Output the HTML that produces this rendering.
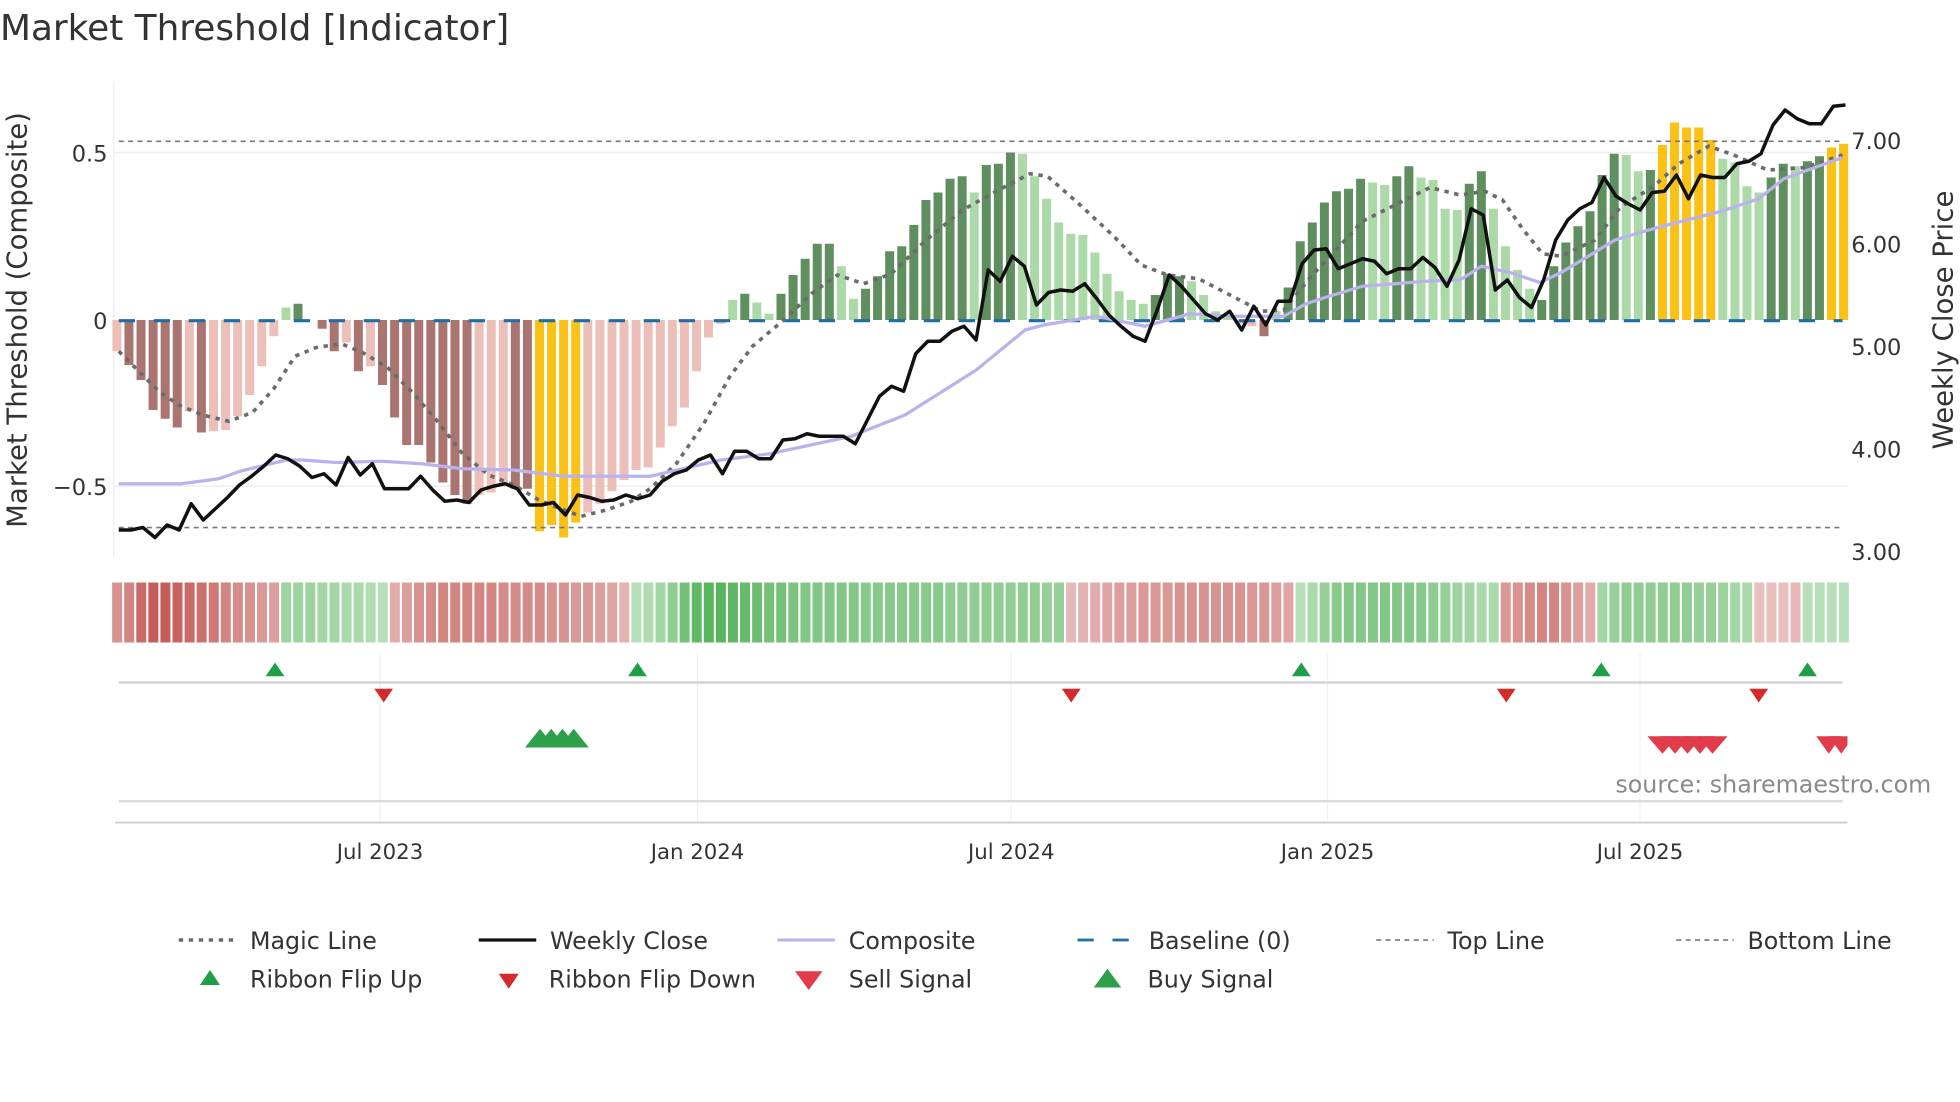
<!DOCTYPE html>
<html><head><meta charset="utf-8">
<style>
html,body{margin:0;padding:0;background:#fff;}
svg{display:block;font-family:"DejaVu Sans","Liberation Sans",sans-serif;}
</style></head>
<body>
<svg id="c" xmlns="http://www.w3.org/2000/svg" width="1960" height="1102" viewBox="0 0 1568 881.6">
<rect width="1568" height="881.6" fill="#fff"/>
<text x="0" y="32" font-size="28.7" fill="#333">Market Threshold [Indicator]</text>
<g id="g"></g>
</svg>
<script>
var NS="http://www.w3.org/2000/svg",g=document.getElementById("g");
function el(t,a,txt){var e=document.createElementNS(NS,t);for(var k in a)e.setAttribute(k,a[k]);if(txt!==undefined)e.textContent=txt;g.appendChild(e);return e;}
function X(i){return 93.5+i*9.66;}
el("line",{x1:92,y1:122,x2:1478,y2:122,stroke:"#eceef0","stroke-width":1.2});
el("line",{x1:92,y1:389,x2:1478,y2:389,stroke:"#eceef0","stroke-width":1.2});
el("line",{x1:91,y1:65,x2:91,y2:446,stroke:"#eef0f3","stroke-width":1.2});
var B=[[-25,'l'],[-36,'d'],[-48,'d'],[-72,'d'],[-79,'d'],[-86,'d'],[-73,'l'],[-90,'d'],[-89,'l'],[-88,'l'],[-77,'l'],[-60,'l'],[-37,'l'],[-13,'l'],[10,'l'],[13,'d'],[0,'l'],[-7,'d'],[-25,'d'],[-18,'l'],[-41,'d'],[-37,'l'],[-52,'d'],[-78,'d'],[-100,'d'],[-100,'d'],[-114,'d'],[-130,'d'],[-140,'d'],[-147,'d'],[-140,'l'],[-138,'l'],[-132,'l'],[-135,'d'],[-135,'d'],[-169,'o'],[-164,'o'],[-174,'o'],[-162,'o'],[-154,'l'],[-147,'l'],[-137,'l'],[-128,'l'],[-120,'l'],
[-118,'l'],[-102,'l'],[-85,'l'],[-70,'l'],[-41,'l'],[-14,'l'],[-3,'l'],[16,'l'],[21,'d'],[14,'l'],[5,'l'],[21,'d'],[36,'d'],[49,'d'],[61,'d'],[61,'d'],[43,'l'],[17,'l'],[25,'d'],[35,'d'],[55,'d'],[59,'d'],[76,'d'],[96,'d'],[102,'d'],[113,'d'],[115,'d'],[102,'l'],[124,'d'],[125,'d'],[134,'d'],[133,'l'],[115,'l'],[97,'l'],[78,'l'],[69,'l'],[68,'l'],[54,'l'],[37,'l'],[23,'l'],[16,'l'],[13,'l'],[20,'d'],[37,'d'],[35,'d'],[31,'l'],[20,'l'],[7,'l'],[4,'l'],[-3,'l'],[-5,'l'],[-13,'d'],[7,'l'],[26,'d'],[63,'d'],
[78,'d'],[94,'d'],[103,'d'],[105,'d'],[113,'d'],[110,'l'],[108,'l'],[115,'d'],[123,'d'],[114,'l'],[112,'l'],[89,'l'],[88,'l'],[109,'d'],[119,'d'],[89,'l'],[59,'l'],[40,'l'],[25,'l'],[16,'d'],[43,'d'],[62,'d'],[75,'d'],[87,'d'],[116,'d'],[133,'d'],[132,'l'],[119,'l'],[120,'d'],[140,'o'],[158,'o'],[154,'o'],[154,'o'],[144,'o'],[129,'l'],[126,'l'],[107,'l'],[102,'l'],[114,'d'],[125,'d'],[123,'l'],[127,'d'],[131,'d'],[138,'o'],[141,'o']];
B.forEach(function(b,i){var v=b[0];if(v===0)return;var c;
 if(b[1]=='o')c="#fbc114";else if(v<0)c=(b[1]=='d'?"#aa7570":"#ecbfb9");else c=(b[1]=='d'?"#5f8f5e":"#acd9a8");
 var y=v>0?256-v:256,h=Math.abs(v);el("rect",{x:X(i)-3.6,y:y,width:7.2,height:h,fill:c});});
el("line",{x1:95,y1:113,x2:1474,y2:113,stroke:"#777","stroke-width":1.3,"stroke-dasharray":"4,3.5"});
el("line",{x1:95,y1:422,x2:1474,y2:422,stroke:"#777","stroke-width":1.3,"stroke-dasharray":"4,3.5"});
el("line",{x1:95,y1:256.5,x2:1474,y2:256.5,stroke:"#1f6fa5","stroke-width":2.5,"stroke-dasharray":"13,15"});
function poly(pts,st){el("polyline",Object.assign({points:pts.map(function(p){return p[0]+","+p[1]}).join(" "),fill:"none","stroke-linejoin":"round"},st));}
var M=[[95,281],[108,294],[128,314],[145,325],[162,332],[183,337],[202,330],[219,311],[236,285],[253,278],[273,275],[290,282],[310,294],[330,314],[350,337],[370,363],[391,380],[411,388],[431,400],[451,408],[465,413],[485,408],[505,401],[520,391],[541,371],[563,339],[584,301],[602,277],[627,256],[649,235],[670,220],[691,227],[713,219],[741,192],[770,168],[799,152],[824,139],[838,141],[863,163],[891,189],[913,212],[934,220],[959,223],[984,236],[1009,249],[1027,248],[1049,221],[1079,189],[1090,177],[1124,160],[1144,150],[1168,156],[1188,153],[1202,160],[1218,183],[1234,203],[1249,205],[1276,192],[1296,166],[1323,149],[1343,131],[1367,117],[1387,124],[1414,136],[1444,134],[1474,124]];
poly(M,{stroke:"#6b6b6b","stroke-width":2.9,"stroke-dasharray":"3.5,4.5"});
var C=[[95,387],[145,387],[175,383],[192,377],[229,368],[242,368],[269,370],[306,369],[337,371],[370,375],[411,376],[451,381],[500,381],[520,381],[577,368],[616,363],[681,349],[724,332],[781,296],[820,264],[835,260],[877,253],[916,261],[952,251],[984,253],[1027,253],[1045,243],[1060,238],[1090,229],[1141,225],[1168,224],[1185,213],[1208,218],[1232,226],[1249,218],[1292,192],[1326,182],[1377,169],[1407,159],[1427,143],[1474,126]];
poly(C,{stroke:"#bab2ec","stroke-width":2.6});
var W=[424,424,422,430,420,424,403,416,407,398,388,381,373,364,367,373,382,379,388,366,380,371,391,391,391,381,392,401,400,402,392,389,387,391,404,404,402,412,396,398,401,400,396,399,396,
385,379,376,368,364,379,361,361,367,367,352,351,347,349,349,349,355,336,317,309,313,283,273,273,265,261,272,216,225,205,213,244,234,232,233,227,239,252,261,269,273,248,220,229,240,251,256,249,264,245,260,241,241,211,
200,199,215,211,207,209,219,215,215,206,214,229,208,167,172,232,224,238,246,224,192,176,167,162,142,157,163,168,154,153,140,159,140,142,142,131,129,123,100,88,95,99,99,85,84];
poly(W.map(function(y,i){return [X(i)+1.5,y]}),{stroke:"#111","stroke-width":2.8});
el("text",{x:86,y:129,"font-size":18,fill:"#333","text-anchor":"end"},"0.5");
el("text",{x:86,y:263,"font-size":18,fill:"#333","text-anchor":"end"},"0");
el("text",{x:86,y:396,"font-size":18,fill:"#333","text-anchor":"end"},"\u22120.5");
[["7.00",119],["6.00",202],["5.00",284],["4.00",366],["3.00",448]].forEach(function(t){el("text",{x:1481,y:t[1],"font-size":18,fill:"#333"},t[0]);});
el("text",{x:0,y:0,"font-size":22,fill:"#333","text-anchor":"middle",transform:"translate(21,256) rotate(-90)"},"Market Threshold (Composite)");
el("text",{x:0,y:0,"font-size":22,fill:"#333","text-anchor":"middle",transform:"translate(1562,256) rotate(-90)"},"Weekly Close Price");
var segs=[["r",[0.5,0.6,0.8,0.9,0.9,0.85,0.8,0.75,0.7,0.6,0.55,0.5,0.45,0.4]],
["g",[0.4,0.4,0.4,0.35,0.35,0.3,0.3,0.25,0.2]],
["r",[0.3,0.4,0.5,0.55,0.6,0.6,0.6,0.6,0.6,0.55,0.55,0.55,0.55,0.5,0.5,0.45,0.45,0.4,0.35,0.25]],
["g",[0.2,0.25,0.35,0.5,0.7,0.85,0.9,0.9,0.85,0.8,0.75,0.7,0.7,0.65,0.6,0.6,0.6,0.6,0.6,0.55,0.55,0.55,0.55,0.55,0.55,0.55,0.5,0.5,0.5,0.5,0.5,0.5,0.5,0.5,0.45,0.45]],
["r",[0.2,0.25,0.3,0.35,0.4,0.4,0.45,0.45,0.45,0.5,0.5,0.5,0.5,0.5,0.5,0.45,0.45,0.4,0.35]],
["g",[0.2,0.3,0.45,0.55,0.6,0.6,0.6,0.6,0.6,0.6,0.55,0.5,0.45,0.4,0.35,0.3,0.3]],
["r",[0.45,0.5,0.55,0.6,0.6,0.5,0.4,0.3]],
["g",[0.35,0.45,0.5,0.5,0.5,0.5,0.5,0.5,0.45,0.45,0.4,0.35,0.3]],
["r",[0.15,0.15,0.15,0.2]],["g",[0.2,0.2,0.2,0.2]]];
var idx=0;segs.forEach(function(s){s[1].forEach(function(m){
 var base=s[0]=="r"?[192,80,77]:[76,175,80];var a=0.25+0.75*m;
 var col="rgb("+base.map(function(v){return Math.round(255-(255-v)*a)}).join(",")+")";
 el("rect",{x:X(idx)-3.8,y:466,width:8,height:48,fill:col});idx++;});});
[304,558,809,1062,1312].forEach(function(x){el("line",{x1:x,y1:522,x2:x,y2:658,stroke:"#eef0f3","stroke-width":1});});
el("line",{x1:95,y1:546,x2:1474,y2:546,stroke:"#d3d3d3","stroke-width":2});
el("line",{x1:95,y1:641,x2:1474,y2:641,stroke:"#dcdcdc","stroke-width":2});
el("line",{x1:92,y1:658,x2:1478,y2:658,stroke:"#cfcfcf","stroke-width":1.5});
function up(x,yb,w,h,c){el("polygon",{points:(x-w/2)+","+yb+" "+(x+w/2)+","+yb+" "+x+","+(yb-h),fill:c});}
function dn(x,yt,w,h,c){el("polygon",{points:(x-w/2)+","+yt+" "+(x+w/2)+","+yt+" "+x+","+(yt+h),fill:c});}
[220,510,1041,1281,1446].forEach(function(x){up(x,541,15,11,"#1f9e48");});
[307,857,1205,1407].forEach(function(x){dn(x,551,15,11,"#d62a2a");});
[432,441,450,459].forEach(function(x){up(x,598,24,15,"#2ea04a");});
[1330,1340,1350,1360,1370].forEach(function(x){dn(x,589,24,14,"#e23b4a");});
[1463,1473].forEach(function(x){dn(x,589,20,14,"#e23b4a");});
el("rect",{x:1478,y:580,width:20,height:30,fill:"#fff"});
el("text",{x:1545,y:634,"font-size":19,fill:"#8a8a8a","text-anchor":"end"},"source: sharemaestro.com");
[["Jul 2023",304],["Jan 2024",558],["Jul 2024",809],["Jan 2025",1062],["Jul 2025",1312]].forEach(function(t){el("text",{x:t[1],y:687,"font-size":17,fill:"#333","text-anchor":"middle"},t[0]);});
var L1=[["Magic Line",143,{stroke:"#6b6b6b","stroke-width":2.8,"stroke-dasharray":"3.5,4.5"}],["Weekly Close",383,{stroke:"#111","stroke-width":2.6}],["Composite",622,{stroke:"#bab2ec","stroke-width":2.4}],["Baseline (0)",862,{stroke:"#1f6fa5","stroke-width":2.2,"stroke-dasharray":"13,15"}],["Top Line",1101,{stroke:"#777","stroke-width":1.3,"stroke-dasharray":"4,3.5"}],["Bottom Line",1341,{stroke:"#777","stroke-width":1.3,"stroke-dasharray":"4,3.5"}]];
L1.forEach(function(l){el("line",Object.assign({x1:l[1],y1:752,x2:l[1]+46,y2:752},l[2]));el("text",{x:l[1]+57,y:759,"font-size":19,fill:"#333"},l[0]);});
up(168,788,16,12,"#1f9e48");el("text",{x:200,y:790,"font-size":19,fill:"#333"},"Ribbon Flip Up");
dn(407,779,16,12,"#d62a2a");el("text",{x:439,y:790,"font-size":19,fill:"#333"},"Ribbon Flip Down");
dn(647,777,22,15,"#e23b4a");el("text",{x:679,y:790,"font-size":19,fill:"#333"},"Sell Signal");
up(886,790,22,15,"#2ea04a");el("text",{x:918,y:790,"font-size":19,fill:"#333"},"Buy Signal");
</script>
</body></html>
